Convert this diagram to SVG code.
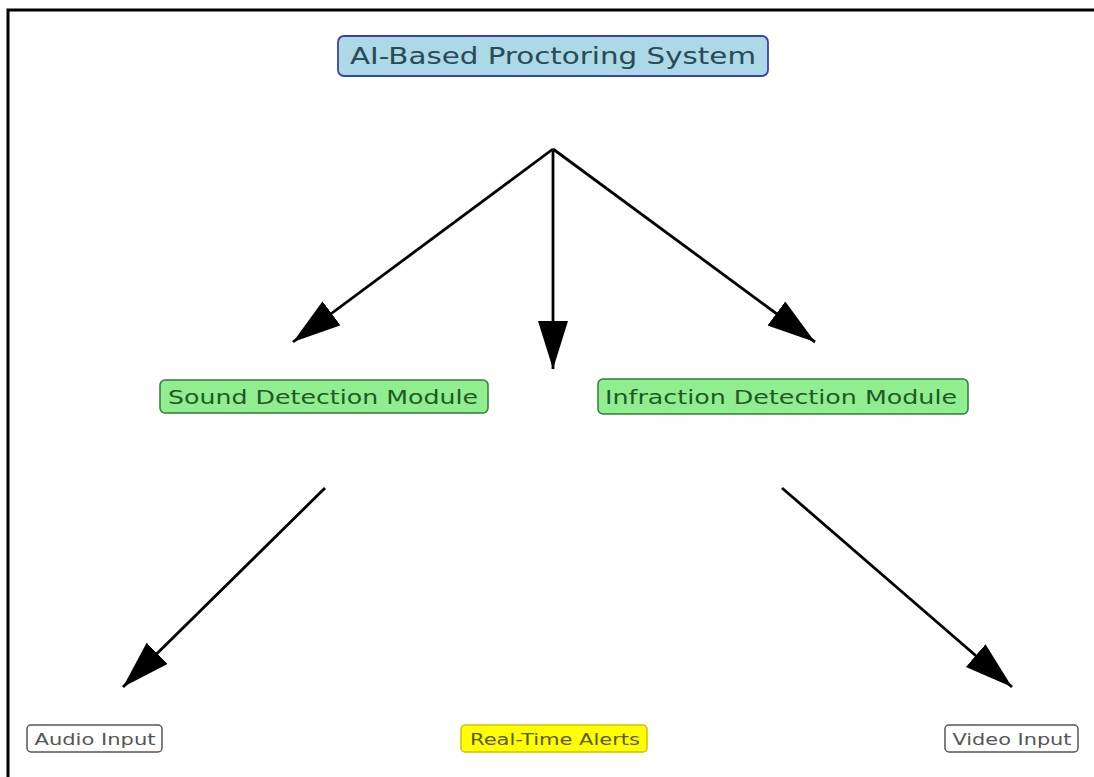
<svg xmlns="http://www.w3.org/2000/svg" width="1094" height="777" viewBox="0 0 1094 777">
<style>
.t{font-family:"DejaVu Sans","Liberation Sans",sans-serif;text-anchor:middle}
.e{stroke:#000;stroke-width:2.8;fill:none}
</style>
<defs>
<marker id="ah" markerUnits="userSpaceOnUse" markerWidth="52" markerHeight="32" refX="48" refY="15" orient="auto">
<path d="M0,0 L48,15 L0,30 Z" fill="#000"/>
</marker>
</defs>
<rect width="1094" height="777" fill="#fff"/>
<path d="M8,777 V10 H1094" fill="none" stroke="#000" stroke-width="3"/>
<g id="connectors">
<line class="e" x1="553" y1="149" x2="293" y2="342" marker-end="url(#ah)"/>
<line class="e" x1="553" y1="149" x2="553" y2="369" marker-end="url(#ah)"/>
<line class="e" x1="553" y1="149" x2="815" y2="342" marker-end="url(#ah)"/>
<line class="e" x1="325" y1="488" x2="123" y2="687" marker-end="url(#ah)"/>
<line class="e" x1="782" y1="488" x2="1012" y2="687" marker-end="url(#ah)"/>
</g>
<g id="n-root">
<rect x="338" y="36" width="430" height="40" rx="6" fill="#add8e6" stroke="#3a44a8" stroke-width="1.8"/>
<text class="t" x="553" y="64" font-size="23" fill="#2a4b55" textLength="406" lengthAdjust="spacingAndGlyphs">AI-Based Proctoring System</text>
</g>
<g id="n-sound">
<rect x="160" y="380" width="328" height="33" rx="5" fill="#90ee90" stroke="#2e7d32" stroke-width="1.5"/>
<text class="t" x="323" y="404" font-size="20" fill="#1f5a24" textLength="310" lengthAdjust="spacingAndGlyphs">Sound Detection Module</text>
</g>
<g id="n-infraction">
<rect x="598" y="379" width="370" height="35" rx="5" fill="#90ee90" stroke="#2e7d32" stroke-width="1.5"/>
<text class="t" x="781" y="404" font-size="20" fill="#1f5a24" textLength="352" lengthAdjust="spacingAndGlyphs">Infraction Detection Module</text>
</g>
<g id="n-audio">
<rect x="27" y="725" width="135" height="27" rx="4" fill="#fff" stroke="#555" stroke-width="1.5"/>
<text class="t" x="95" y="745" font-size="16" fill="#555" textLength="121" lengthAdjust="spacingAndGlyphs">Audio Input</text>
</g>
<g id="n-alerts">
<rect x="461" y="725" width="186" height="27" rx="4" fill="#ffff00" stroke="#d4c000" stroke-width="1.5"/>
<text class="t" x="555" y="745" font-size="16" fill="#5a5a10" textLength="170" lengthAdjust="spacingAndGlyphs">Real-Time Alerts</text>
</g>
<g id="n-video">
<rect x="945" y="725" width="133" height="27" rx="4" fill="#fff" stroke="#555" stroke-width="1.5"/>
<text class="t" x="1012" y="745" font-size="16" fill="#555" textLength="119" lengthAdjust="spacingAndGlyphs">Video Input</text>
</g>
</svg>
